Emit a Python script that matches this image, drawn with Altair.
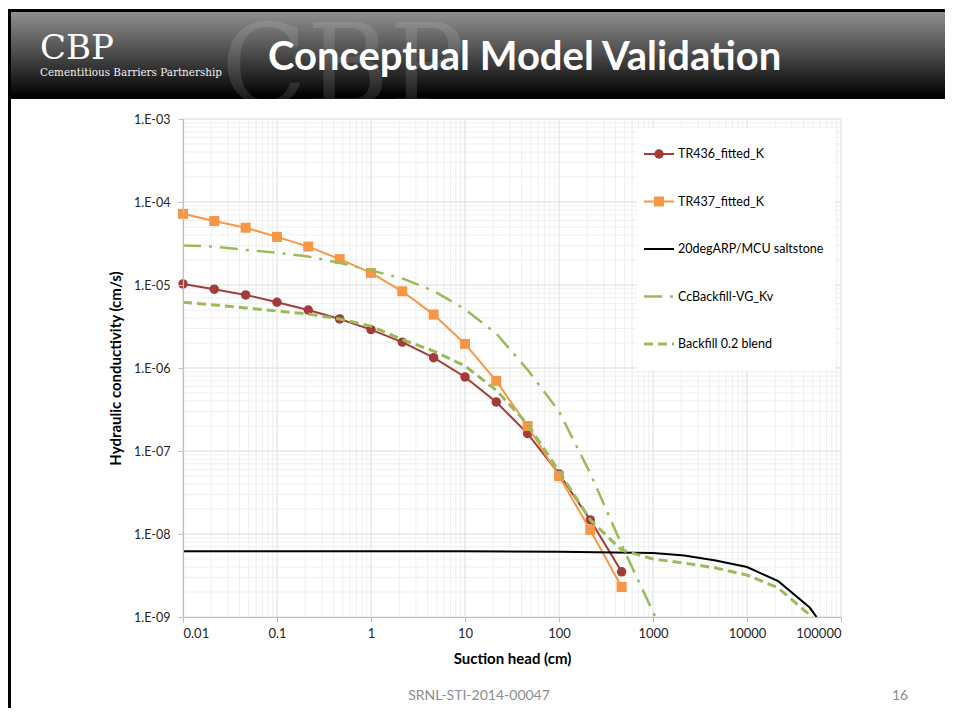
import altair as alt
import pandas as pd

# ---------------- data ----------------
series_names = ["TR436_fitted_K", "TR437_fitted_K", "20degARP/MCU saltstone",
                "CcBackfill-VG_Kv", "Backfill 0.2 blend"]

x_tr = [0.01, 0.0215, 0.0464, 0.1, 0.215, 0.464, 1, 2.15, 4.64, 10, 21.5, 46.4, 100, 215, 464]
k_tr436 = [1.03e-5, 8.9e-6, 7.6e-6, 6.2e-6, 5.0e-6, 3.9e-6, 2.9e-6, 2.05e-6, 1.33e-6,
           7.8e-7, 3.9e-7, 1.62e-7, 5.3e-8, 1.48e-8, 3.5e-9]
k_tr437 = [7.2e-5, 5.9e-5, 4.9e-5, 3.8e-5, 2.9e-5, 2.05e-5, 1.4e-5, 8.4e-6, 4.4e-6,
           1.95e-6, 7.0e-7, 2.0e-7, 5.0e-8, 1.12e-8, 2.3e-9]

x_salt = [0.01, 0.1, 1, 10, 100, 1000, 2150, 4640, 10000, 21500, 46400, 55000]
k_salt = [6.2e-9, 6.2e-9, 6.2e-9, 6.2e-9, 6.1e-9, 5.9e-9, 5.5e-9, 4.8e-9, 4.0e-9,
          2.7e-9, 1.3e-9, 1.0e-9]

x_vg = [0.01, 0.0215, 0.0464, 0.1, 0.215, 0.464, 1, 2.15, 4.64, 10, 21.5, 46.4,
        100, 215, 464, 1000, 1060]
k_vg = [3.0e-5, 2.9e-5, 2.65e-5, 2.45e-5, 2.2e-5, 1.85e-5, 1.5e-5, 1.2e-5, 8.5e-6,
        5.1e-6, 2.6e-6, 9.5e-7, 3.0e-7, 5.4e-8, 7.4e-9, 1.15e-9, 1.0e-9]

x_blend = [0.01, 0.0215, 0.0464, 0.1, 0.215, 0.464, 1, 2.15, 4.64, 10, 21.5, 46.4,
           100, 215, 464, 1000, 2150, 4640, 10000, 21500, 46400, 50000]
k_blend = [6.2e-6, 5.75e-6, 5.3e-6, 4.86e-6, 4.47e-6, 3.9e-6, 3.2e-6, 2.2e-6, 1.6e-6,
           1.06e-6, 5.4e-7, 2.1e-7, 5.7e-8, 1.48e-8, 6.4e-9, 5.0e-9, 4.47e-9, 3.9e-9,
           3.2e-9, 2.24e-9, 1.06e-9, 1.0e-9]

x_ticks = [0.01, 0.1, 1, 10, 100, 1000, 10000, 100000]
y_ticks = [1e-9, 1e-8, 1e-7, 1e-6, 1e-5, 1e-4, 1e-3]
x_minor = [m * 10.0 ** e for e in range(-2, 5) for m in range(2, 10)]
y_minor = [m * 10.0 ** e for e in range(-9, -3) for m in range(2, 10)]

title_text = "Conceptual Model Validation"
footer_text = "SRNL-STI-2014-00047"
page_number = "16"

# ---------------- styling ----------------
RED = "#A23C3A"
ORANGE = "#F79646"
GREEN = "#9BBB59"
FONT = "Lato"

xscale = alt.Scale(type="log", domain=[0.01, 100000], nice=False)
yscale = alt.Scale(type="log", domain=[1e-9, 1e-3], nice=False)

x_axis = alt.Axis(values=x_ticks, format="~g", title="Suction head (cm)", grid=False,
                  domainColor="#bfbfbf", domainWidth=1.2, tickColor="#bfbfbf", tickSize=5,
                  labelFont=FONT, labelFontSize=13, labelColor="#262626", labelPadding=5,
                  titleFont=FONT, titleFontSize=15, titleFontWeight="bold", titleColor="#000000",
                  titleY=34, titleBaseline="top", zindex=1)
y_axis = alt.Axis(values=y_ticks, labelExpr="'1.E-0' + format(-log(datum.value)/LN10, '.0f')",
                  title="Hydraulic conductivity (cm/s)", grid=False,
                  domainColor="#bfbfbf", domainWidth=1.2, tickColor="#bfbfbf", tickSize=5,
                  labelFont=FONT, labelFontSize=12.5, labelColor="#262626", labelPadding=8,
                  titleFont=FONT, titleFontSize=15, titleFontWeight="bold", titleColor="#000000",
                  titleX=-68, titleY=249, titleAngle=-90, titleAlign="center",
                  titleBaseline="middle", zindex=1)


def sdf(xs, ks):
    return pd.DataFrame({"x": xs, "k": ks, "o": list(range(len(xs)))})


X = alt.X("x:Q", scale=xscale, axis=x_axis)
Y = alt.Y("k:Q", scale=yscale, axis=y_axis)

one = pd.DataFrame({"d": [0]})


def box(x1, x2, y1, y2, **kw):
    return alt.Chart(one).mark_rect(**kw).encode(
        x=alt.value(x1), x2=alt.value(x2), y=alt.value(y1), y2=alt.value(y2))


def label(txt, x, y, **kw):
    return alt.Chart(one).mark_text(text=txt, **kw).encode(x=alt.value(x), y=alt.value(y))


grad = alt.Gradient(gradient="linear",
                    stops=[alt.GradientStop(color="#8f8f8f", offset=0),
                           alt.GradientStop(color="#4a4a4a", offset=0.5),
                           alt.GradientStop(color="#000000", offset=1)],
                    x1=0, x2=0, y1=0, y2=1)

layers = []
# header
layers.append(box(-175, 770, -110, -20, fill="#000000"))
layers.append(box(-172, 770, -107, -22, fill=grad))
layers.append(label("CBP", 160, -15, font="DejaVu Serif", fontSize=112, align="center",
                    baseline="alphabetic", color="#ffffff", opacity=0.11))
layers.append(box(0, 330, -20, -2, fill="#ffffff"))
layers.append(box(-175, -172, -110, 589, fill="#000000"))
layers.append(label("CBP", -143, -60, font="DejaVu Serif", fontSize=34, align="left",
                    baseline="alphabetic", color="#ffffff"))
layers.append(label("Cementitious Barriers Partnership", -143, -43, font="DejaVu Serif",
                    fontSize=10.4, align="left", baseline="alphabetic", color="#f0f0f0"))
layers.append(label(title_text, 85, -49, font=FONT, fontSize=40, fontWeight="bold",
                    align="left", baseline="alphabetic", color="#ffffff"))

# grid
layers.append(alt.Chart(pd.DataFrame({"x": x_minor})).mark_rule(color="#efefef", strokeWidth=1)
              .encode(x=X))
layers.append(alt.Chart(pd.DataFrame({"k": y_minor})).mark_rule(color="#efefef", strokeWidth=1)
              .encode(y=Y))
layers.append(alt.Chart(pd.DataFrame({"x": x_ticks})).mark_rule(color="#dcdcdc", strokeWidth=1)
              .encode(x=X))
layers.append(alt.Chart(pd.DataFrame({"k": y_ticks})).mark_rule(color="#dcdcdc", strokeWidth=1)
              .encode(y=Y))

# legend background
layers.append(box(454, 652, 9, 251, fill="#ffffff"))

# series
d436 = sdf(x_tr, k_tr436)
d437 = sdf(x_tr, k_tr437)
layers.append(alt.Chart(d436).mark_line(color=RED, strokeWidth=2).encode(x=X, y=Y, order="o:Q"))
layers.append(alt.Chart(d436).mark_point(shape="circle", filled=True, size=90, color=RED, opacity=1)
              .encode(x=X, y=Y))
layers.append(alt.Chart(d437).mark_line(color=ORANGE, strokeWidth=2).encode(x=X, y=Y, order="o:Q"))
layers.append(alt.Chart(d437).mark_point(shape="square", filled=True, size=100, color=ORANGE, opacity=1)
              .encode(x=X, y=Y))
layers.append(alt.Chart(sdf(x_salt, k_salt)).mark_line(color="#000000", strokeWidth=2)
              .encode(x=X, y=Y, order="o:Q"))
layers.append(alt.Chart(sdf(x_vg, k_vg)).mark_line(color=GREEN, strokeWidth=2.5,
                                                    strokeDash=[18, 8, 3, 8])
              .encode(x=X, y=Y, order="o:Q"))
layers.append(alt.Chart(sdf(x_blend, k_blend)).mark_line(color=GREEN, strokeWidth=3,
                                                          strokeDash=[9, 5])
              .encode(x=X, y=Y, order="o:Q"))

# legend entries
styles = [
    dict(color=RED, strokeWidth=2),
    dict(color=ORANGE, strokeWidth=2),
    dict(color="#000000", strokeWidth=2),
    dict(color=GREEN, strokeWidth=2.5, strokeDash=[18, 8, 3, 8]),
    dict(color=GREEN, strokeWidth=3, strokeDash=[9, 5]),
]
markers = ["circle", "square", None, None, None]
for i, name in enumerate(series_names):
    ly = 35 + i * 47.5
    layers.append(alt.Chart(one).mark_rule(**styles[i]).encode(
        x=alt.value(461), x2=alt.value(491), y=alt.value(ly)))
    if markers[i]:
        layers.append(alt.Chart(one).mark_point(shape=markers[i], filled=True, opacity=1,
                                                size=90 if i == 0 else 100,
                                                color=styles[i]["color"])
                      .encode(x=alt.value(476), y=alt.value(ly)))
    layers.append(label(name, 495, ly, font=FONT, fontSize=12.5, align="left",
                        baseline="middle", color="#000000"))

# footer
layers.append(label(footer_text, 296, 577, font=FONT, fontSize=14, align="center",
                    baseline="middle", color="#8c8c8c"))
layers.append(label(page_number, 717, 577, font=FONT, fontSize=14, align="center",
                    baseline="middle", color="#8c8c8c"))

chart = alt.layer(*layers).properties(
    width=658, height=498,
    autosize=alt.AutoSizeParams(type="none"),
    padding={"left": 175, "top": 111, "right": 104, "bottom": 91},
    background="#ffffff",
).configure_view(stroke=None)

chart.save("out.html", embed_options={"renderer": "svg", "actions": False})
